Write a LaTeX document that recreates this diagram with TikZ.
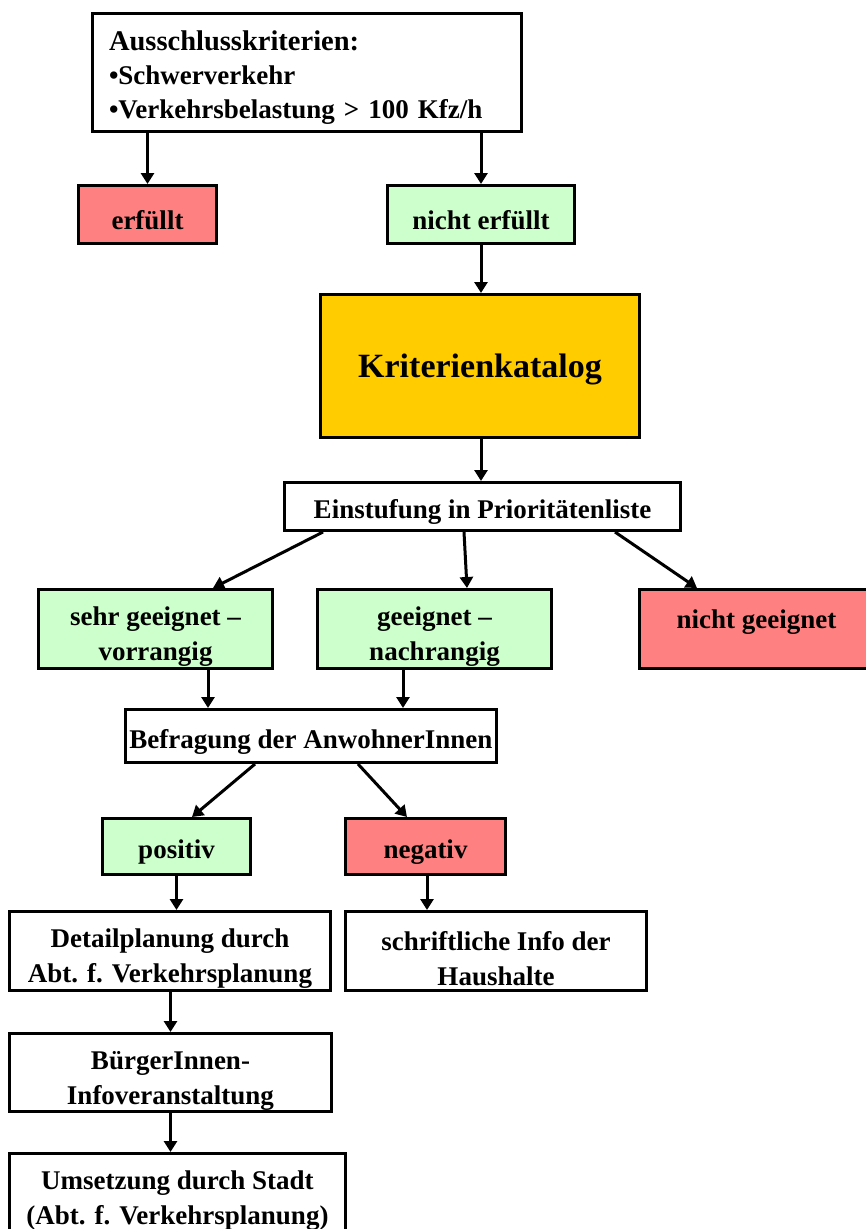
\documentclass[tikz,border=0pt]{standalone}
\usepackage{fontspec}
\setmainfont{Liberation Serif}
\usepackage{xcolor}
\usetikzlibrary{positioning,arrows.meta}
\definecolor{rot}{HTML}{FF8080}
\definecolor{gruen}{HTML}{CCFFCC}
\definecolor{gelb}{HTML}{FFCC00}

\begin{document}
\begin{tikzpicture}[x=1pt, y=-1pt,
      font=\fontsize{27}{35}\selectfont\bfseries,
      box/.style={draw, line width=3pt, align=center, inner sep=0pt, fill=white,
        execute at begin node={\rule{0pt}{30pt}}},
      zwei/.style={text width=#1, align=flush center, execute at begin node={\rule{0pt}{34pt}}},
      ja/.style={box, fill=gruen},
      nein/.style={box, fill=rot},
      arr/.style={-{Triangle[length=11pt,width=13pt]}, line width=3pt}]
    \useasboundingbox (0,0) rectangle (866,1229);
    \clip (0,0) rectangle (866,1229);
    \node[box, minimum width=429pt, minimum height=118pt, text width=396pt, align=left,
      font=\fontsize{27}{34}\selectfont\bfseries] (aus) at (307,72)
      {{\fontsize{28.5}{34}\selectfont Ausschlusskriterien:}\\•Schwerverkehr\\•Verkehrsbelastung > 100 Kfz/h};
    \node[nein, minimum width=138pt, minimum height=58pt] (erf) at (147.5,214.5) {erfüllt};
    \node[ja, minimum width=187pt, minimum height=58pt] (nerf) at (481,214.5) {nicht erfüllt};
    \node[box, fill=gelb, minimum width=319pt, minimum height=143pt,
      font=\fontsize{34}{40}\selectfont\bfseries] (kat) at (480,366) {Kriterienkatalog};
    \node[box, minimum width=396pt, minimum height=48pt] (einst) at (482.5,506.5) {Einstufung in Prioritätenliste};
    \node[ja, zwei=224pt, minimum width=234pt, minimum height=79pt] (sehr) at (155.5,629) {sehr geeignet --\\vorrangig};
    \node[ja, zwei=224pt, minimum width=234pt, minimum height=79pt] (geeig) at (434.5,629) {geeignet --\\nachrangig};
    \node[nein, zwei=224pt, minimum width=234pt, minimum height=79pt] (ungeeig) at (756.5,629) {nicht geeignet\\\mbox{}};
    \node[box, minimum width=371pt, minimum height=53pt] (befr) at (311,736) {Befragung der AnwohnerInnen};
    \node[ja, minimum width=148pt, minimum height=56pt] (pos) at (176.5,846.5) {positiv};
    \node[nein, minimum width=160pt, minimum height=56pt] (neg) at (425.5,846.5) {negativ};
    \node[box, zwei=311pt, minimum width=321pt, minimum height=79pt] (detail) at (170,951) {Detailplanung durch\\Abt. f. Verkehrsplanung};
    \node[box, zwei=291pt, minimum width=301pt, minimum height=79pt] (info) at (496,951) {schriftliche Info der\\Haushalte};
    \node[box, zwei=312pt, minimum width=322pt, minimum height=78pt] (buerger) at (170.5,1072.5) {BürgerInnen-\\Infoveranstaltung};
    \node[box, zwei=326pt, minimum width=336pt, minimum height=79pt] (umsetz) at (177.5,1193) {Umsetzung durch Stadt\\(Abt. f. Verkehrsplanung)};
    \coordinate (s1) at ([xshift=52.5pt]sehr.south);
    \coordinate (g1) at ([xshift=-31.5pt]geeig.south);
    \draw[arr] (erf.north |- aus.south) -- (erf.north);
    \draw[arr] (nerf.north |- aus.south) -- (nerf.north);
    \draw[arr] (nerf) -- (nerf |- kat.north);
    \draw[arr] (kat.south -| nerf) -- (einst.north -| nerf);
    \draw[arr] ([xshift=-159.5pt]einst.south) -- ([xshift=57.5pt]sehr.north);
    \draw[arr] ([xshift=-18.5pt]einst.south) -- ([xshift=32.5pt]geeig.north);
    \draw[arr] ([xshift=132.5pt]einst.south) -- ([xshift=-59.5pt]ungeeig.north);
    \draw[arr] (s1) -- (s1 |- befr.north);
    \draw[arr] (g1) -- (g1 |- befr.north);
    \draw[arr] ([xshift=-56pt]befr.south) -- ([xshift=15.5pt]pos.north);
    \draw[arr] ([xshift=47pt]befr.south) -- ([xshift=-18.5pt]neg.north);
    \draw[arr] (pos.south) -- (pos.south |- detail.north);
    \draw[arr] ([xshift=1.5pt]neg.south) -- ([xshift=1.5pt]neg.south |- info.north);
    \draw[arr] (detail.south -| buerger) -- (buerger.north);
    \draw[arr] (buerger) -- (buerger |- umsetz.north);
  \end{tikzpicture}
\end{document}
